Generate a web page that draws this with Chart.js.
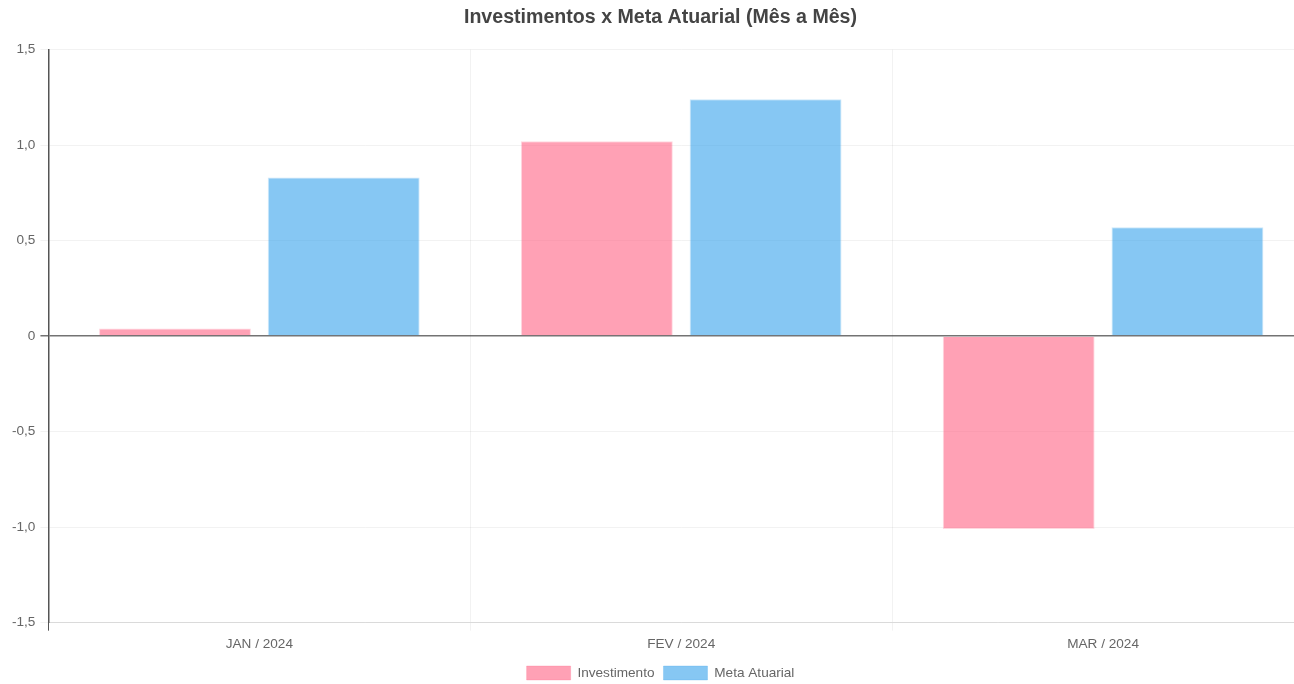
<!DOCTYPE html>
<html>
<head>
<meta charset="utf-8">
<script src="https://cdn.jsdelivr.net/npm/chart.js@4/dist/chart.umd.min.js"></script>
<style>
html,body{margin:0;padding:0;background:#fff;overflow:hidden;}
#wrap{width:1322px;height:684px;}
</style>
</head>
<body>
<div id="wrap"><canvas id="chart"></canvas></div>
<script>
const months=["JAN / 2024","FEV / 2024","MAR / 2024"];
const investimento=[0.04,1.02,-1.01];
const metaAtuarial=[0.83,1.24,0.57];

Chart.defaults.font.family="'Liberation Sans', Arial, sans-serif";
Chart.defaults.color="#666";

const ctx=document.getElementById("chart");

new Chart(ctx,{
type:"bar",
data:{
labels:months,
datasets:[
{label:"Investimento",data:investimento,backgroundColor:"rgba(255,99,132,0.6)",borderColor:"rgba(255,99,132,0.25)",borderWidth:1},
{label:"Meta Atuarial",data:metaAtuarial,backgroundColor:"rgba(54,162,235,0.6)",borderColor:"rgba(54,162,235,0.25)",borderWidth:1}
]
},
options:{
responsive:true,
maintainAspectRatio:false,
animation:false,
layout:{padding:{left:7,right:8,top:0,bottom:-6}},
plugins:{
title:{display:true,text:"Investimentos x Meta Atuarial (Mês a Mês)",color:"#444",font:{size:19.6,weight:"bold"},padding:{top:6,bottom:20}},
legend:{position:"bottom",labels:{boxWidth:44,boxHeight:14,padding:9,font:{size:13.6}}},
tooltip:{enabled:false}
},
scales:{
x:{
grid:{color:c=>c.index===0?"#555":"rgba(0,0,0,0.05)",tickLength:8},
border:{color:"rgba(0,0,0,0.1)"},
ticks:{font:{size:13.6},padding:5}
},
y:{
min:-1.5,
max:1.5,
grid:{
color:c=>c.tick&&c.tick.value===0?"rgba(0,0,0,0.55)":"rgba(0,0,0,0.05)",
lineWidth:c=>c.tick&&c.tick.value===0?1.5:1,
tickLength:8
},
border:{color:"#555",width:1.5},
ticks:{stepSize:0.5,padding:5,font:{size:13.6},callback:v=>v===0?"0":v.toFixed(1).replace(".",",")}
}
}
}
});
</script>
</body>
</html>
